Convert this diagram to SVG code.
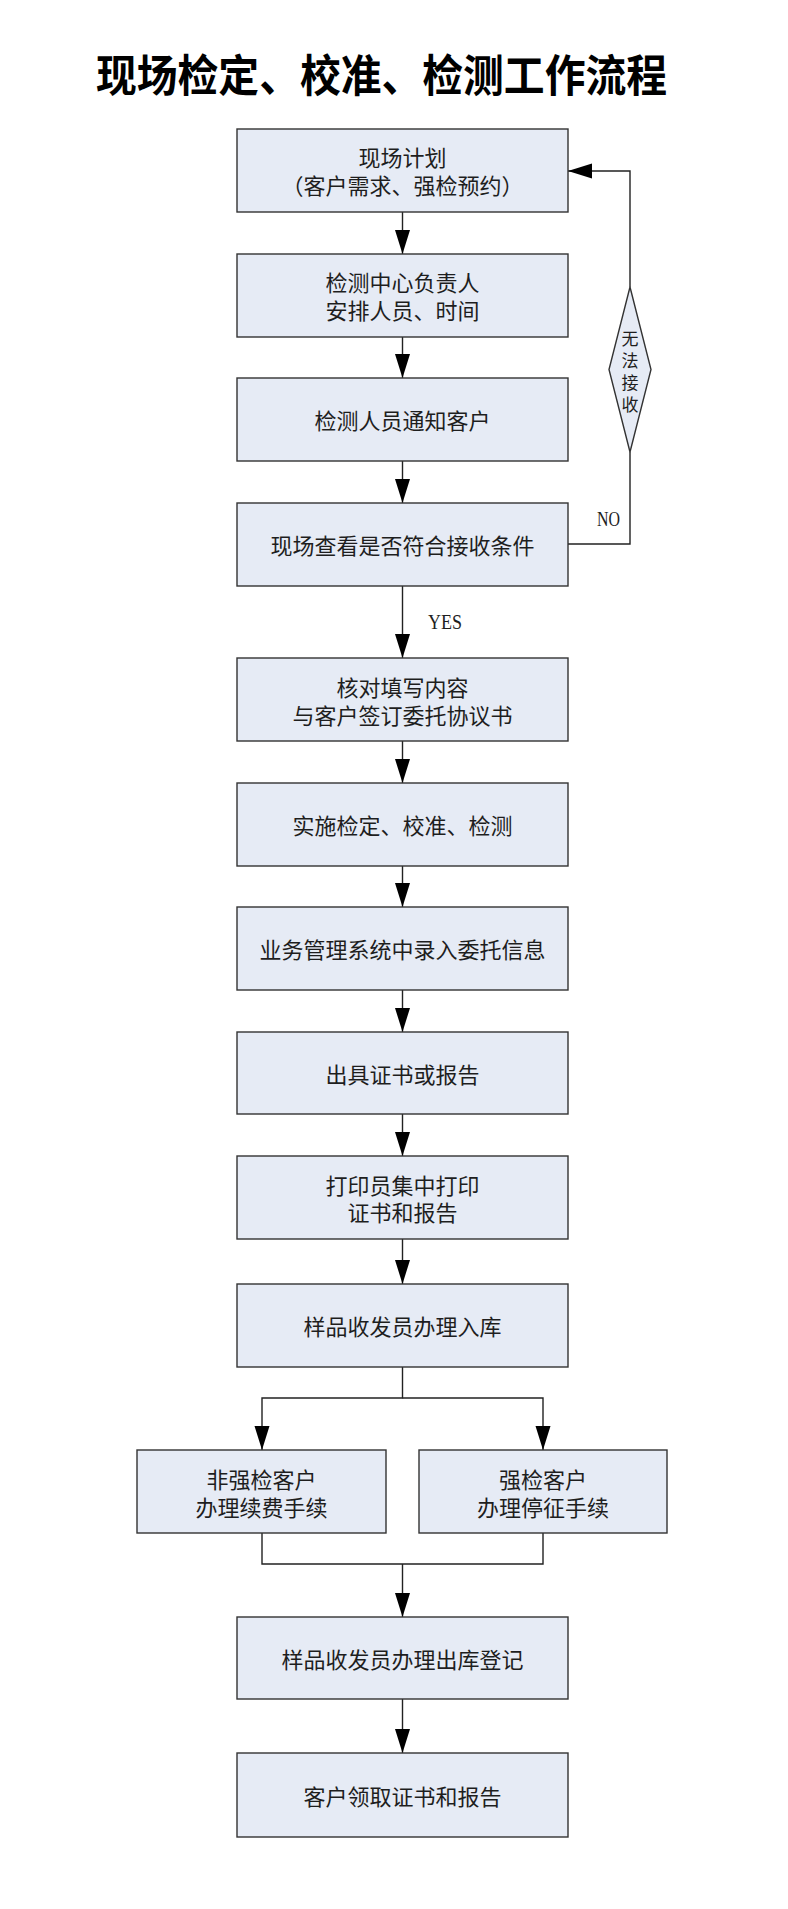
<svg xmlns="http://www.w3.org/2000/svg" width="788" height="1909" viewBox="0 0 788 1909">
<style>
.box{fill:#E6EBF5;stroke:#333;stroke-width:1.4}
.t{font-family:"Noto Sans CJK SC","Noto Sans",sans-serif;font-size:22px;fill:#1e1e1e;text-anchor:middle;dominant-baseline:central}
.d{font-family:"Noto Sans CJK SC","Noto Sans",sans-serif;font-size:17px;fill:#1e1e1e;text-anchor:middle;dominant-baseline:central}
.title{font-family:"Noto Sans CJK SC",sans-serif;font-size:44px;font-weight:bold;fill:#000;text-anchor:middle;dominant-baseline:central}
.lbl{font-family:"Liberation Serif",serif;font-size:22px;fill:#1e1e1e;text-anchor:middle;dominant-baseline:central}
.c{fill:none;stroke:#222;stroke-width:1.4}
</style>
<defs>
<marker id="ah" viewBox="0 0 24 16" refX="24" refY="8" markerWidth="24" markerHeight="16" markerUnits="userSpaceOnUse" orient="auto">
<path d="M0,0.5 L24,8 L0,15.5 z" fill="#000"/>
</marker>
</defs>
<rect width="788" height="1909" fill="#fff"/>
<text class="title" x="381.5" y="73" textLength="571" lengthAdjust="spacingAndGlyphs">现场检定、校准、检测工作流程</text>

<g id="connectors">
<path class="c" d="M402.5,212 V254" marker-end="url(#ah)"/>
<path class="c" d="M402.5,337 V378" marker-end="url(#ah)"/>
<path class="c" d="M402.5,461 V503" marker-end="url(#ah)"/>
<path class="c" d="M402.5,586 V658" marker-end="url(#ah)"/>
<path class="c" d="M402.5,741 V783" marker-end="url(#ah)"/>
<path class="c" d="M402.5,866 V907" marker-end="url(#ah)"/>
<path class="c" d="M402.5,990 V1032" marker-end="url(#ah)"/>
<path class="c" d="M402.5,1114 V1156" marker-end="url(#ah)"/>
<path class="c" d="M402.5,1239 V1284" marker-end="url(#ah)"/>
<path class="c" d="M402.5,1367 V1398 H262 V1450" marker-end="url(#ah)"/>
<path class="c" d="M402.5,1398 H543 V1450" marker-end="url(#ah)"/>
<path class="c" d="M262,1533 V1564 H543 V1533"/>
<path class="c" d="M402.5,1564 V1617" marker-end="url(#ah)"/>
<path class="c" d="M402.5,1699 V1753" marker-end="url(#ah)"/>
<path class="c" d="M568,544 H630 V452"/>
<path class="c" d="M630,287 V171 H568" marker-end="url(#ah)"/>
<text class="lbl" x="445" y="621" textLength="34" lengthAdjust="spacingAndGlyphs">YES</text>
<text class="lbl" x="608.5" y="518" textLength="23" lengthAdjust="spacingAndGlyphs">NO</text>
</g>

<g id="n1"><rect class="box" x="237" y="129" width="331" height="83"/>
<text class="t" x="402.5" y="156">现场计划<tspan x="402.5" dy="28">（客户需求、强检预约）</tspan></text></g>
<g id="n2"><rect class="box" x="237" y="254" width="331" height="83"/>
<text class="t" x="402.5" y="281">检测中心负责人<tspan x="402.5" dy="28">安排人员、时间</tspan></text></g>
<g id="n3"><rect class="box" x="237" y="378" width="331" height="83"/>
<text class="t" x="402.5" y="419">检测人员通知客户</text></g>
<g id="n4"><rect class="box" x="237" y="503" width="331" height="83"/>
<text class="t" x="402.5" y="544">现场查看是否符合接收条件</text></g>
<g id="n5"><rect class="box" x="237" y="658" width="331" height="83"/>
<text class="t" x="402.5" y="686">核对填写内容<tspan x="402.5" dy="28">与客户签订委托协议书</tspan></text></g>
<g id="n6"><rect class="box" x="237" y="783" width="331" height="83"/>
<text class="t" x="402.5" y="824">实施检定、校准、检测</text></g>
<g id="n7"><rect class="box" x="237" y="907" width="331" height="83"/>
<text class="t" x="402.5" y="948">业务管理系统中录入委托信息</text></g>
<g id="n8"><rect class="box" x="237" y="1032" width="331" height="82"/>
<text class="t" x="402.5" y="1073">出具证书或报告</text></g>
<g id="n9"><rect class="box" x="237" y="1156" width="331" height="83"/>
<text class="t" x="402.5" y="1184">打印员集中打印<tspan x="402.5" dy="27">证书和报告</tspan></text></g>
<g id="n10"><rect class="box" x="237" y="1284" width="331" height="83"/>
<text class="t" x="402.5" y="1325">样品收发员办理入库</text></g>
<g id="n11"><rect class="box" x="137" y="1450" width="249" height="83"/>
<text class="t" x="261.5" y="1478">非强检客户<tspan x="261.5" dy="28">办理续费手续</tspan></text></g>
<g id="n12"><rect class="box" x="419" y="1450" width="248" height="83"/>
<text class="t" x="543" y="1478">强检客户<tspan x="543" dy="28">办理停征手续</tspan></text></g>
<g id="n13"><rect class="box" x="237" y="1617" width="331" height="82"/>
<text class="t" x="402.5" y="1658">样品收发员办理出库登记</text></g>
<g id="n14"><rect class="box" x="237" y="1753" width="331" height="84"/>
<text class="t" x="402.5" y="1795">客户领取证书和报告</text></g>
<g id="diamond"><polygon class="box" points="630,287 651,369.5 630,452 609,369.5"/>
<text class="d" x="630" y="337">无<tspan x="630" dy="22">法</tspan><tspan x="630" dy="22">接</tspan><tspan x="630" dy="22">收</tspan></text></g>
</svg>
